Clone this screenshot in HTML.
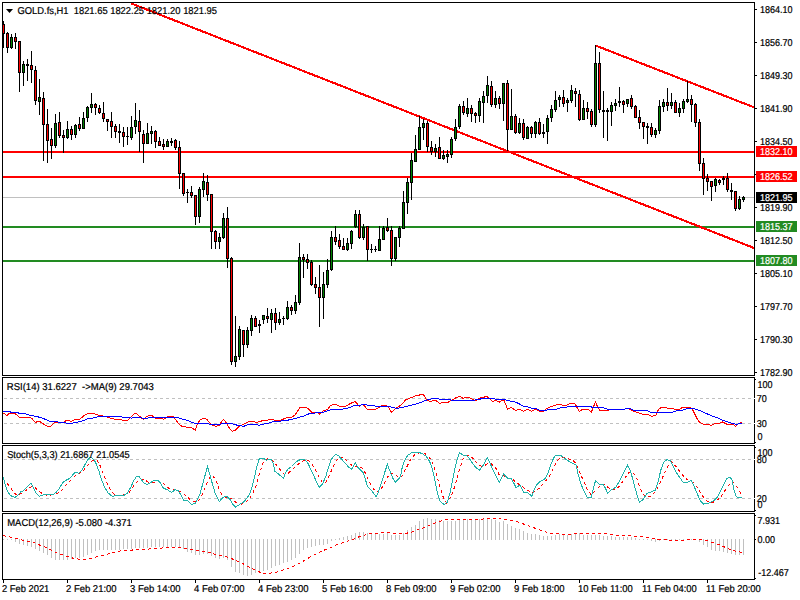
<!DOCTYPE html>
<html><head><meta charset="utf-8"><title>GOLD.fs H1</title>
<style>html,body{margin:0;padding:0;background:#fff;overflow:hidden}svg{display:block}text{font-family:"Liberation Sans",sans-serif;font-size:10px;text-rendering:geometricPrecision}</style></head><body>
<svg width="800" height="600" viewBox="0 0 800 600">
<rect width="800" height="600" fill="#fff"/>
<g shape-rendering="crispEdges">
<rect x="3" y="197" width="751" height="1" fill="#c0c0c0"/>
<rect x="3" y="151" width="751" height="2" fill="#f00"/>
<rect x="3" y="176" width="751" height="2" fill="#f00"/>
<rect x="3" y="226" width="751" height="2" fill="#228b22"/>
<rect x="3" y="260" width="751" height="2" fill="#228b22"/>
<clipPath id="cm"><rect x="3" y="3" width="751" height="372"/></clipPath>
<g clip-path="url(#cm)" stroke="#f00" stroke-width="2.1" fill="none">
<line x1="131.5" y1="3.5" x2="754" y2="248"/>
<line x1="595.5" y1="45.5" x2="754" y2="107.3"/>
</g>
<path d="M3 21h1v27h-1zM2 24h3v10h-3zM7 32h1v21h-1zM6 33h3v15h-3zM11 34h1v15h-1zM10 37h3v11h-3zM15 33h1v16h-1zM14 37h3v5h-3zM19 41h1v51h-1zM18 41h3v32h-3zM23 61h1v25h-1zM22 64h3v9h-3zM27 59h1v22h-1zM26 64h3v2h-3zM31 51h1v32h-1zM30 65h3v5h-3zM35 66h1v39h-1zM34 70h3v31h-3zM39 79h1v36h-1zM38 97h3v5h-3zM43 92h1v69h-1zM42 98h3v27h-3zM47 109h1v54h-1zM46 124h3v17h-3zM51 128h1v31h-1zM50 139h3v7h-3zM55 114h1v34h-1zM54 123h3v23h-3zM59 112h1v26h-1zM58 122h3v14h-3zM63 130h1v23h-1zM62 135h3v3h-3zM67 121h1v18h-1zM66 129h3v9h-3zM71 126h1v14h-1zM70 129h3v6h-3zM75 124h1v14h-1zM74 125h3v10h-3zM79 117h1v14h-1zM78 124h3v5h-3zM83 112h1v17h-1zM82 118h3v11h-3zM87 106h1v16h-1zM86 107h3v11h-3zM91 93h1v20h-1zM90 104h3v4h-3zM95 103h1v12h-1zM94 104h3v4h-3zM99 105h1v9h-1zM98 108h3v5h-3zM103 102h1v20h-1zM102 113h3v6h-3zM107 119h1v12h-1zM106 119h3v3h-3zM111 112h1v26h-1zM110 121h3v6h-3zM115 124h1v14h-1zM114 126h3v6h-3zM119 124h1v19h-1zM118 131h3v2h-3zM123 127h1v20h-1zM122 132h3v5h-3zM127 127h1v18h-1zM126 136h3v1h-3zM131 116h1v24h-1zM130 127h3v11h-3zM135 103h1v31h-1zM134 120h3v7h-3zM139 110h1v42h-1zM138 121h3v11h-3zM143 130h1v33h-1zM142 134h3v10h-3zM147 123h1v21h-1zM146 133h3v11h-3zM151 126h1v18h-1zM150 131h3v3h-3zM155 130h1v18h-1zM154 131h3v11h-3zM159 137h1v9h-1zM158 141h3v5h-3zM163 139h1v11h-1zM162 144h3v3h-3zM167 139h1v8h-1zM166 141h3v6h-3zM171 138h1v8h-1zM170 141h3v2h-3zM175 139h1v11h-1zM174 140h3v8h-3zM179 141h1v48h-1zM178 147h3v27h-3zM183 173h1v23h-1zM182 173h3v21h-3zM187 189h1v14h-1zM186 192h3v1h-3zM191 186h1v12h-1zM190 192h3v4h-3zM195 195h1v30h-1zM194 195h3v22h-3zM199 187h1v36h-1zM198 189h3v28h-3zM203 173h1v24h-1zM202 181h3v9h-3zM207 175h1v26h-1zM206 182h3v13h-3zM211 194h1v55h-1zM210 194h3v38h-3zM215 230h1v19h-1zM214 231h3v11h-3zM219 233h1v16h-1zM218 237h3v5h-3zM223 213h1v26h-1zM222 218h3v20h-3zM227 207h1v61h-1zM226 218h3v41h-3zM231 257h1v108h-1zM230 258h3v104h-3zM235 316h1v51h-1zM234 356h3v6h-3zM239 326h1v34h-1zM238 329h3v28h-3zM243 330h1v27h-1zM242 330h3v15h-3zM247 327h1v21h-1zM246 330h3v15h-3zM251 315h1v21h-1zM250 318h3v13h-3zM255 316h1v11h-1zM254 318h3v9h-3zM259 320h1v13h-1zM258 324h3v2h-3zM263 315h1v9h-1zM262 315h3v5h-3zM267 308h1v15h-1zM266 316h3v3h-3zM271 309h1v24h-1zM270 313h3v7h-3zM275 308h1v22h-1zM274 313h3v10h-3zM279 312h1v13h-1zM278 319h3v4h-3zM283 316h1v9h-1zM282 318h3v1h-3zM287 301h1v19h-1zM286 307h3v12h-3zM291 305h1v10h-1zM290 307h3v4h-3zM295 295h1v19h-1zM294 302h3v9h-3zM299 243h1v62h-1zM298 257h3v46h-3zM303 254h1v24h-1zM302 257h3v3h-3zM307 254h1v15h-1zM306 259h3v4h-3zM311 260h1v26h-1zM310 262h3v23h-3zM315 277h1v17h-1zM314 284h3v4h-3zM319 265h1v62h-1zM318 287h3v11h-3zM323 272h1v47h-1zM322 284h3v14h-3zM327 259h1v29h-1zM326 270h3v15h-3zM331 231h1v40h-1zM330 237h3v33h-3zM335 226h1v19h-1zM334 237h3v5h-3zM339 234h1v15h-1zM338 240h3v7h-3zM343 238h1v12h-1zM342 246h3v4h-3zM347 238h1v13h-1zM346 243h3v7h-3zM351 230h1v19h-1zM350 231h3v13h-3zM355 210h1v18h-1zM354 214h3v13h-3zM359 210h1v29h-1zM358 214h3v24h-3zM363 224h1v16h-1zM362 227h3v11h-3zM367 226h1v35h-1zM366 226h3v24h-3zM371 244h1v9h-1zM370 249h3v1h-3zM375 246h1v6h-1zM374 249h3v1h-3zM379 226h1v25h-1zM378 239h3v12h-3zM383 226h1v14h-1zM382 228h3v12h-3zM387 218h1v14h-1zM386 227h3v4h-3zM391 226h1v40h-1zM390 230h3v29h-3zM395 237h1v24h-1zM394 237h3v22h-3zM399 226h1v21h-1zM398 228h3v10h-3zM403 191h1v38h-1zM402 202h3v27h-3zM407 178h1v36h-1zM406 182h3v21h-3zM411 153h1v47h-1zM410 160h3v23h-3zM415 135h1v27h-1zM414 149h3v13h-3zM419 116h1v34h-1zM418 127h3v23h-3zM423 119h1v21h-1zM422 123h3v5h-3zM427 121h1v31h-1zM426 123h3v24h-3zM431 141h1v14h-1zM430 147h3v5h-3zM435 144h1v13h-1zM434 148h3v4h-3zM439 137h1v22h-1zM438 147h3v12h-3zM443 150h1v10h-1zM442 155h3v4h-3zM447 150h1v13h-1zM446 154h3v3h-3zM451 137h1v21h-1zM450 139h3v16h-3zM455 119h1v22h-1zM454 127h3v12h-3zM459 104h1v25h-1zM458 106h3v21h-3zM463 101h1v14h-1zM462 106h3v7h-3zM467 98h1v19h-1zM466 108h3v6h-3zM471 105h1v17h-1zM470 108h3v6h-3zM475 112h1v11h-1zM474 113h3v3h-3zM479 98h1v24h-1zM478 101h3v15h-3zM483 91h1v32h-1zM482 96h3v7h-3zM487 76h1v27h-1zM486 85h3v11h-3zM491 81h1v26h-1zM490 86h3v19h-3zM495 91h1v17h-1zM494 98h3v7h-3zM499 96h1v13h-1zM498 98h3v6h-3zM503 83h1v38h-1zM502 83h3v21h-3zM507 80h1v71h-1zM506 83h3v47h-3zM511 89h1v41h-1zM510 116h3v14h-3zM515 114h1v20h-1zM514 116h3v17h-3zM519 118h1v16h-1zM518 123h3v10h-3zM523 119h1v21h-1zM522 123h3v15h-3zM527 126h1v13h-1zM526 127h3v12h-3zM531 126h1v12h-1zM530 127h3v7h-3zM535 121h1v17h-1zM534 122h3v12h-3zM539 118h1v17h-1zM538 122h3v12h-3zM543 124h1v14h-1zM542 132h3v2h-3zM547 115h1v29h-1zM546 118h3v14h-3zM551 105h1v17h-1zM550 109h3v9h-3zM555 91h1v21h-1zM554 100h3v10h-3zM559 95h1v12h-1zM558 97h3v3h-3zM563 90h1v17h-1zM562 97h3v7h-3zM567 98h1v14h-1zM566 100h3v3h-3zM571 85h1v18h-1zM570 90h3v11h-3zM575 88h1v19h-1zM574 91h3v3h-3zM579 90h1v31h-1zM578 94h3v26h-3zM583 100h1v20h-1zM582 108h3v12h-3zM587 102h1v17h-1zM586 108h3v4h-3zM591 109h1v18h-1zM590 111h3v14h-3zM595 45h1v82h-1zM594 63h3v62h-3zM599 52h1v61h-1zM598 63h3v47h-3zM603 91h1v47h-1zM602 110h3v2h-3zM607 108h1v33h-1zM606 110h3v2h-3zM611 102h1v24h-1zM610 105h3v7h-3zM615 99h1v12h-1zM614 103h3v3h-3zM619 87h1v20h-1zM618 101h3v2h-3zM623 100h1v13h-1zM622 101h3v4h-3zM627 99h1v8h-1zM626 99h3v5h-3zM631 95h1v14h-1zM630 98h3v9h-3zM635 105h1v13h-1zM634 106h3v12h-3zM639 110h1v19h-1zM638 117h3v6h-3zM643 122h1v17h-1zM642 122h3v5h-3zM647 123h1v21h-1zM646 126h3v2h-3zM651 123h1v14h-1zM650 127h3v8h-3zM655 128h1v10h-1zM654 130h3v5h-3zM659 100h1v34h-1zM658 106h3v25h-3zM663 99h1v13h-1zM662 102h3v5h-3zM667 88h1v23h-1zM666 102h3v4h-3zM671 93h1v16h-1zM670 102h3v4h-3zM675 100h1v13h-1zM674 102h3v11h-3zM679 103h1v14h-1zM678 108h3v5h-3zM683 99h1v14h-1zM682 101h3v8h-3zM687 81h1v22h-1zM686 99h3v3h-3zM691 95h1v27h-1zM690 99h3v6h-3zM695 103h1v24h-1zM694 104h3v19h-3zM699 119h1v52h-1zM698 122h3v42h-3zM703 158h1v37h-1zM702 163h3v16h-3zM707 174h1v17h-1zM706 178h3v4h-3zM711 181h1v20h-1zM710 181h3v6h-3zM715 178h1v14h-1zM714 179h3v7h-3zM719 179h1v6h-1zM718 180h3v3h-3zM723 176h1v9h-1zM722 178h3v2h-3zM727 173h1v19h-1zM726 178h3v12h-3zM731 183h1v17h-1zM730 190h3v2h-3zM735 191h1v20h-1zM734 191h3v18h-3zM739 196h1v14h-1zM738 199h3v10h-3zM743 196h1v6h-1zM742 197h3v3h-3z" fill="#000"/>
<path d="M3 25h1v8h-1zM7 34h1v13h-1zM15 38h1v3h-1zM19 42h1v30h-1zM31 66h1v3h-1zM35 71h1v29h-1zM43 99h1v25h-1zM47 125h1v15h-1zM51 140h1v5h-1zM59 123h1v12h-1zM63 136h1v1h-1zM71 130h1v4h-1zM79 125h1v3h-1zM95 105h1v2h-1zM99 109h1v3h-1zM103 114h1v4h-1zM107 120h1v1h-1zM111 122h1v4h-1zM115 127h1v4h-1zM123 133h1v3h-1zM139 122h1v9h-1zM143 135h1v8h-1zM155 132h1v9h-1zM159 142h1v3h-1zM163 145h1v1h-1zM175 141h1v6h-1zM179 148h1v25h-1zM183 174h1v19h-1zM191 193h1v2h-1zM195 196h1v20h-1zM207 183h1v11h-1zM211 195h1v36h-1zM215 232h1v9h-1zM227 219h1v39h-1zM231 259h1v102h-1zM243 331h1v13h-1zM255 319h1v7h-1zM267 317h1v1h-1zM275 314h1v8h-1zM291 308h1v2h-1zM303 258h1v1h-1zM307 260h1v2h-1zM311 263h1v21h-1zM315 285h1v2h-1zM319 288h1v9h-1zM335 238h1v3h-1zM339 241h1v5h-1zM343 247h1v2h-1zM359 215h1v22h-1zM367 227h1v22h-1zM387 228h1v2h-1zM391 231h1v27h-1zM427 124h1v22h-1zM431 148h1v3h-1zM439 148h1v10h-1zM463 107h1v5h-1zM471 109h1v4h-1zM475 114h1v1h-1zM491 87h1v17h-1zM499 99h1v4h-1zM507 84h1v45h-1zM515 117h1v15h-1zM523 124h1v13h-1zM531 128h1v5h-1zM539 123h1v10h-1zM563 98h1v5h-1zM575 92h1v1h-1zM579 95h1v24h-1zM587 109h1v2h-1zM591 112h1v12h-1zM599 64h1v45h-1zM623 102h1v2h-1zM631 99h1v7h-1zM635 107h1v10h-1zM639 118h1v4h-1zM643 123h1v3h-1zM651 128h1v6h-1zM667 103h1v2h-1zM675 103h1v9h-1zM691 100h1v4h-1zM695 105h1v17h-1zM699 123h1v40h-1zM703 164h1v14h-1zM707 179h1v2h-1zM711 182h1v4h-1zM719 181h1v1h-1zM727 179h1v10h-1zM735 192h1v16h-1z" fill="#f00"/>
<path d="M11 38h1v9h-1zM23 65h1v7h-1zM39 98h1v3h-1zM55 124h1v21h-1zM67 130h1v7h-1zM75 126h1v8h-1zM83 119h1v9h-1zM87 108h1v9h-1zM91 105h1v2h-1zM131 128h1v9h-1zM135 121h1v5h-1zM147 134h1v9h-1zM151 132h1v1h-1zM167 142h1v4h-1zM199 190h1v26h-1zM203 182h1v7h-1zM219 238h1v3h-1zM223 219h1v18h-1zM235 357h1v4h-1zM239 330h1v26h-1zM247 331h1v13h-1zM251 319h1v11h-1zM263 316h1v3h-1zM271 314h1v5h-1zM279 320h1v2h-1zM287 308h1v10h-1zM295 303h1v7h-1zM299 258h1v44h-1zM323 285h1v12h-1zM327 271h1v13h-1zM331 238h1v31h-1zM347 244h1v5h-1zM351 232h1v11h-1zM355 215h1v11h-1zM363 228h1v9h-1zM379 240h1v10h-1zM383 229h1v10h-1zM395 238h1v20h-1zM399 229h1v8h-1zM403 203h1v25h-1zM407 183h1v19h-1zM411 161h1v21h-1zM415 150h1v11h-1zM419 128h1v21h-1zM423 124h1v3h-1zM435 149h1v2h-1zM443 156h1v2h-1zM447 155h1v1h-1zM451 140h1v14h-1zM455 128h1v10h-1zM459 107h1v19h-1zM467 109h1v4h-1zM479 102h1v13h-1zM483 97h1v5h-1zM487 86h1v9h-1zM495 99h1v5h-1zM503 84h1v19h-1zM511 117h1v12h-1zM519 124h1v8h-1zM527 128h1v10h-1zM535 123h1v10h-1zM547 119h1v12h-1zM551 110h1v7h-1zM555 101h1v8h-1zM559 98h1v1h-1zM567 101h1v1h-1zM571 91h1v9h-1zM583 109h1v10h-1zM595 64h1v60h-1zM611 106h1v5h-1zM615 104h1v1h-1zM627 100h1v3h-1zM655 131h1v3h-1zM659 107h1v23h-1zM663 103h1v3h-1zM671 103h1v2h-1zM679 109h1v3h-1zM683 102h1v6h-1zM687 100h1v1h-1zM715 180h1v5h-1zM739 200h1v8h-1zM743 198h1v1h-1z" fill="#008000"/>
<rect x="2" y="2" width="753" height="1" fill="#000"/><rect x="2" y="375" width="753" height="1" fill="#000"/><rect x="2" y="2" width="1" height="374" fill="#000"/><rect x="754" y="2" width="1" height="374" fill="#000"/>
<rect x="2" y="377" width="753" height="1" fill="#000"/><rect x="2" y="443" width="753" height="1" fill="#000"/><rect x="2" y="377" width="1" height="67" fill="#000"/><rect x="754" y="377" width="1" height="67" fill="#000"/>
<rect x="2" y="445" width="753" height="1" fill="#000"/><rect x="2" y="511" width="753" height="1" fill="#000"/><rect x="2" y="445" width="1" height="67" fill="#000"/><rect x="754" y="445" width="1" height="67" fill="#000"/>
<rect x="2" y="513" width="753" height="1" fill="#000"/><rect x="2" y="579" width="753" height="1" fill="#000"/><rect x="2" y="513" width="1" height="67" fill="#000"/><rect x="754" y="513" width="1" height="67" fill="#000"/>
<rect x="755" y="9" width="2" height="1" fill="#000"/>
<rect x="755" y="42" width="2" height="1" fill="#000"/>
<rect x="755" y="75" width="2" height="1" fill="#000"/>
<rect x="755" y="108" width="2" height="1" fill="#000"/>
<rect x="755" y="141" width="2" height="1" fill="#000"/>
<rect x="755" y="174" width="2" height="1" fill="#000"/>
<rect x="755" y="207" width="2" height="1" fill="#000"/>
<rect x="755" y="240" width="2" height="1" fill="#000"/>
<rect x="755" y="273" width="2" height="1" fill="#000"/>
<rect x="755" y="306" width="2" height="1" fill="#000"/>
<rect x="755" y="339" width="2" height="1" fill="#000"/>
<rect x="755" y="372" width="2" height="1" fill="#000"/>
<rect x="755" y="379" width="1" height="1" fill="#000"/>
<rect x="755" y="442" width="1" height="1" fill="#000"/>
<rect x="755" y="447" width="1" height="1" fill="#000"/>
<rect x="755" y="510" width="1" height="1" fill="#000"/>
<rect x="755" y="515" width="1" height="1" fill="#000"/>
<rect x="755" y="539" width="1" height="1" fill="#000"/>
<rect x="755" y="578" width="1" height="1" fill="#000"/>
<path d="M4 398.5H754" stroke="#c0c0c0" stroke-width="1" stroke-dasharray="3 3" fill="none"/><rect x="754" y="398" width="1" height="1" fill="#fff"/>
<path d="M4 423.5H754" stroke="#c0c0c0" stroke-width="1" stroke-dasharray="3 3" fill="none"/><rect x="754" y="423" width="1" height="1" fill="#fff"/>
<path d="M4 459.5H754" stroke="#c0c0c0" stroke-width="1" stroke-dasharray="3 3" fill="none"/><rect x="754" y="459" width="1" height="1" fill="#fff"/>
<path d="M4 498.5H754" stroke="#c0c0c0" stroke-width="1" stroke-dasharray="3 3" fill="none"/><rect x="754" y="498" width="1" height="1" fill="#fff"/>
<path d="M3 539h1v1h-1zM7 539h1v1h-1zM11 539h1v1h-1zM15 539h1v3h-1zM19 539h1v5h-1zM23 539h1v6h-1zM27 539h1v7h-1zM31 539h1v8h-1zM35 539h1v10h-1zM39 539h1v12h-1zM43 539h1v14h-1zM47 539h1v16h-1zM51 539h1v19h-1zM55 539h1v21h-1zM59 539h1v21h-1zM63 539h1v21h-1zM67 539h1v21h-1zM71 539h1v20h-1zM75 539h1v19h-1zM79 539h1v19h-1zM83 539h1v18h-1zM87 539h1v16h-1zM91 539h1v14h-1zM95 539h1v12h-1zM99 539h1v11h-1zM103 539h1v11h-1zM107 539h1v11h-1zM111 539h1v11h-1zM115 539h1v11h-1zM119 539h1v11h-1zM123 539h1v10h-1zM127 539h1v10h-1zM131 539h1v10h-1zM135 539h1v9h-1zM139 539h1v9h-1zM143 539h1v9h-1zM147 539h1v9h-1zM151 539h1v8h-1zM155 539h1v8h-1zM159 539h1v8h-1zM163 539h1v8h-1zM167 539h1v8h-1zM171 539h1v8h-1zM175 539h1v8h-1zM179 539h1v8h-1zM183 539h1v10h-1zM187 539h1v13h-1zM191 539h1v14h-1zM195 539h1v16h-1zM199 539h1v16h-1zM203 539h1v15h-1zM207 539h1v15h-1zM211 539h1v17h-1zM215 539h1v19h-1zM219 539h1v20h-1zM223 539h1v19h-1zM227 539h1v21h-1zM231 539h1v28h-1zM235 539h1v33h-1zM239 539h1v34h-1zM243 539h1v36h-1zM247 539h1v37h-1zM251 539h1v36h-1zM255 539h1v34h-1zM259 539h1v32h-1zM263 539h1v32h-1zM267 539h1v31h-1zM271 539h1v29h-1zM275 539h1v27h-1zM279 539h1v26h-1zM283 539h1v24h-1zM287 539h1v23h-1zM291 539h1v21h-1zM295 539h1v19h-1zM299 539h1v15h-1zM303 539h1v11h-1zM307 539h1v9h-1zM311 539h1v8h-1zM315 539h1v7h-1zM319 539h1v6h-1zM323 539h1v6h-1zM327 539h1v5h-1zM331 539h1v2h-1zM335 539h1v1h-1zM339 538h1v2h-1zM343 537h1v3h-1zM347 536h1v4h-1zM351 535h1v5h-1zM355 533h1v7h-1zM359 532h1v8h-1zM363 532h1v8h-1zM367 533h1v7h-1zM371 533h1v7h-1zM375 534h1v6h-1zM379 534h1v6h-1zM383 534h1v6h-1zM387 533h1v7h-1zM391 535h1v5h-1zM395 535h1v5h-1zM399 535h1v5h-1zM403 533h1v7h-1zM407 530h1v10h-1zM411 527h1v13h-1zM415 525h1v15h-1zM419 521h1v19h-1zM423 519h1v21h-1zM427 518h1v22h-1zM431 519h1v21h-1zM435 519h1v21h-1zM439 520h1v20h-1zM443 521h1v19h-1zM447 521h1v19h-1zM451 521h1v19h-1zM455 521h1v19h-1zM459 519h1v21h-1zM463 519h1v21h-1zM467 519h1v21h-1zM471 519h1v21h-1zM475 520h1v20h-1zM479 519h1v21h-1zM483 519h1v21h-1zM487 519h1v21h-1zM491 519h1v21h-1zM495 520h1v20h-1zM499 522h1v18h-1zM503 521h1v19h-1zM507 524h1v16h-1zM511 526h1v14h-1zM515 528h1v12h-1zM519 529h1v11h-1zM523 531h1v9h-1zM527 533h1v7h-1zM531 534h1v6h-1zM535 534h1v6h-1zM539 535h1v5h-1zM543 536h1v4h-1zM547 536h1v4h-1zM551 536h1v4h-1zM555 535h1v5h-1zM559 534h1v6h-1zM563 535h1v5h-1zM567 535h1v5h-1zM571 534h1v6h-1zM575 533h1v7h-1zM579 533h1v7h-1zM583 535h1v5h-1zM587 535h1v5h-1zM591 535h1v5h-1zM595 535h1v5h-1zM599 535h1v5h-1zM603 536h1v4h-1zM607 536h1v4h-1zM611 536h1v4h-1zM615 537h1v3h-1zM619 537h1v3h-1zM623 537h1v3h-1zM627 537h1v3h-1zM631 537h1v3h-1zM635 538h1v2h-1zM639 539h1v1h-1zM643 539h1v1h-1zM647 539h1v1h-1zM651 539h1v2h-1zM655 539h1v3h-1zM659 539h1v2h-1zM663 539h1v1h-1zM667 539h1v1h-1zM671 539h1v1h-1zM675 539h1v1h-1zM679 539h1v1h-1zM683 539h1v1h-1zM687 539h1v1h-1zM691 539h1v1h-1zM695 539h1v1h-1zM699 539h1v3h-1zM703 539h1v6h-1zM707 539h1v8h-1zM711 539h1v11h-1zM715 539h1v12h-1zM719 539h1v12h-1zM723 539h1v13h-1zM727 539h1v14h-1zM731 539h1v15h-1zM735 539h1v16h-1zM739 539h1v16h-1zM743 539h1v16h-1z" fill="#c0c0c0"/>
<rect x="3" y="580" width="1" height="3" fill="#000"/>
<rect x="67" y="580" width="1" height="3" fill="#000"/>
<rect x="131" y="580" width="1" height="3" fill="#000"/>
<rect x="195" y="580" width="1" height="3" fill="#000"/>
<rect x="259" y="580" width="1" height="3" fill="#000"/>
<rect x="323" y="580" width="1" height="3" fill="#000"/>
<rect x="387" y="580" width="1" height="3" fill="#000"/>
<rect x="451" y="580" width="1" height="3" fill="#000"/>
<rect x="515" y="580" width="1" height="3" fill="#000"/>
<rect x="579" y="580" width="1" height="3" fill="#000"/>
<rect x="643" y="580" width="1" height="3" fill="#000"/>
<rect x="707" y="580" width="1" height="3" fill="#000"/>
<rect x="756" y="146" width="41" height="11" fill="#f00"/><rect x="756" y="171" width="41" height="11" fill="#f00"/><rect x="756" y="192" width="41" height="11" fill="#000"/><rect x="756" y="221" width="41" height="11" fill="#228b22"/><rect x="756" y="255" width="41" height="11" fill="#228b22"/>
<polyline points="3.0,413.0 5.0,414.2 7.0,415.4 9.2,413.4 12.6,413.0 16.0,414.2 19.8,418.0 22.6,417.0 29.3,417.0 31.8,418.4 35.5,422.6 37.7,421.3 40.2,421.8 43.9,424.3 47.7,426.3 51.0,426.3 54.4,422.6 58.6,422.6 63.7,422.3 66.2,420.4 68.7,420.4 71.2,421.4 74.5,419.8 79.6,419.3 83.8,415.9 87.1,413.9 91.3,413.0 93.8,413.4 96.3,414.6 100.5,415.4 105.5,416.7 110.6,418.1 114.7,419.3 119.8,419.3 123.1,420.4 127.3,420.4 130.7,417.6 134.0,414.2 135.7,413.1 139.0,415.9 143.2,419.3 146.6,416.8 149.9,415.1 152.4,415.9 155.8,418.1 161.6,418.1 163.3,419.3 166.7,417.3 170.0,416.2 173.4,416.8 175.9,420.1 179.2,424.3 182.6,426.8 191.0,427.3 195.1,430.2 197.7,423.5 200.2,419.8 203.5,418.1 206.9,419.3 209.4,422.6 211.9,425.1 216.1,426.3 219.4,425.1 221.9,420.9 223.6,419.3 226.1,422.6 228.6,426.8 232.0,431.3 235.3,430.2 238.7,426.8 242.0,425.1 245.4,423.5 249.6,421.4 252.9,421.4 255.4,422.3 259.6,421.8 263.0,420.4 268.0,420.1 271.4,419.3 276.4,420.5 280.6,420.5 283.9,418.8 287.3,417.3 291.5,417.1 294.8,415.4 297.3,411.8 299.8,407.6 305.7,407.2 308.2,408.7 311.6,412.3 317.4,412.3 319.9,414.3 323.3,410.9 327.5,409.7 330.8,405.1 335.8,404.5 340.0,406.4 345.0,406.4 350.1,403.7 355.1,401.4 357.6,404.2 359.3,406.4 361.8,404.5 364.3,405.4 366.8,408.9 370.2,409.6 375.2,409.6 379.4,407.2 382.7,405.4 386.1,405.4 388.6,407.6 391.6,412.3 394.5,409.2 397.8,407.2 402.0,404.3 405.4,400.1 410.4,397.9 415.4,395.9 419.6,395.0 422.9,394.2 424.6,396.4 427.1,400.4 430.5,401.7 433.8,400.4 436.3,400.9 439.7,403.4 443.9,402.2 448.1,402.2 451.4,400.4 455.6,397.9 459.8,396.4 463.1,398.4 466.5,397.2 469.0,397.5 472.4,399.2 474.9,400.9 478.2,399.2 481.6,397.2 484.1,397.2 486.6,396.2 489.1,398.4 492.5,401.4 495.8,400.4 499.2,402.2 501.7,400.4 504.2,400.4 506.2,405.9 507.5,409.3 510.9,407.3 515.9,410.4 520.1,409.3 523.4,411.4 527.6,409.3 531.3,411.3 534.3,409.8 536.0,409.5 539.4,411.4 543.5,411.4 546.9,408.4 551.1,406.4 555.3,405.4 558.6,404.2 562.0,405.1 565.3,405.9 568.7,404.2 572.0,403.0 575.4,404.2 577.5,408.4 579.5,411.4 582.9,409.2 587.9,409.2 591.3,412.3 593.8,405.9 595.5,402.2 597.6,406.7 599.6,410.4 608.0,410.4 610.5,409.2 624.8,409.2 627.3,408.1 629.8,409.2 633.1,411.2 638.2,412.6 643.2,414.3 648.3,414.8 651.7,416.4 655.9,415.1 658.4,409.8 661.0,407.6 665.1,407.2 667.6,408.4 671.8,408.4 676.0,409.7 679.4,409.2 682.7,407.2 688.6,407.2 691.9,408.4 695.3,415.1 698.6,421.5 702.8,424.0 708.7,424.3 711.2,425.5 714.5,423.5 718.7,423.5 722.1,421.8 727.1,424.3 733.0,424.3 735.5,426.3 738.0,423.8 742.2,422.1" fill="none" stroke="#f00" stroke-width="1" />
<polyline points="3.0,411.4 9.2,411.4 10.9,412.2 16.8,412.2 19.3,413.4 25.1,413.4 27.6,414.6 31.0,415.4 36.0,416.4 41.0,417.6 45.2,419.3 48.6,420.9 51.9,421.4 57.0,421.4 59.5,422.6 64.5,422.6 67.0,423.5 72.0,423.5 75.4,422.3 80.4,421.8 84.6,420.1 88.8,418.4 93.8,417.9 98.0,416.8 102.2,416.2 110.6,416.2 120.6,416.4 123.1,417.3 129.0,417.3 131.5,418.1 134.0,417.3 140.7,417.3 143.2,418.4 147.4,418.1 152.4,417.3 164.2,417.3 177.6,417.3 181.7,418.9 187.6,420.4 191.8,422.3 195.1,423.5 201.0,423.5 207.7,423.5 211.0,424.6 219.4,424.6 222.8,423.5 231.1,423.5 234.5,424.6 239.5,425.6 243.7,426.3 247.9,424.8 254.6,424.8 259.6,425.1 263.8,424.0 268.0,423.3 273.0,421.8 278.1,421.8 283.1,420.5 288.1,420.1 293.1,419.0 298.2,417.6 304.0,415.9 309.9,413.4 316.6,412.9 323.3,412.3 327.5,410.9 331.7,409.2 338.4,409.2 345.0,408.9 350.1,407.2 355.1,405.4 360.1,405.4 362.6,404.5 366.0,404.5 368.5,405.4 373.5,405.9 378.6,406.4 385.3,406.4 389.4,406.4 392.0,407.2 395.3,408.1 398.7,408.1 402.0,407.4 408.7,405.9 415.4,404.2 420.4,402.6 425.5,400.4 430.5,399.2 433.8,398.4 437.2,398.4 439.7,399.2 448.9,399.5 452.3,400.4 462.3,400.4 472.4,400.4 479.1,399.5 482.4,398.4 492.5,398.4 495.8,399.2 504.2,399.5 509.2,400.9 515.9,402.2 519.3,403.9 523.4,406.2 527.6,406.8 531.8,408.4 536.0,408.3 539.4,410.4 546.0,410.4 550.2,409.2 556.1,409.2 559.4,408.1 564.5,407.6 569.5,406.4 589.6,406.4 592.1,407.2 601.3,407.2 604.7,408.4 607.2,409.2 624.8,409.2 626.5,408.1 629.8,408.4 634.0,410.4 646.6,410.6 650.9,412.3 671.8,412.3 676.0,410.9 680.2,410.9 685.2,409.2 690.3,408.1 694.4,408.7 698.6,410.1 702.8,411.8 707.0,413.8 712.0,415.9 717.1,417.6 722.1,420.1 727.1,421.8 732.1,423.5 737.2,424.3 742.2,423.1" fill="none" stroke="#00f" stroke-width="1" />
<polyline points="3.4,479.0 8.4,484.9 13.4,491.6 16.8,495.4 21.8,493.3 26.8,489.9 31.0,486.9 34.3,486.9 37.7,489.9 41.9,493.3 46.9,495.4 51.9,494.9 57.8,493.3 62.0,489.9 66.2,484.9 70.4,480.7 74.5,476.5 78.7,474.0 82.1,471.8 86.3,467.3 90.5,462.3 93.8,459.8 97.2,460.6 100.5,466.4 103.9,474.8 107.2,483.2 110.6,489.9 113.9,494.1 118.9,495.4 124.8,494.9 129.0,492.4 132.3,487.9 134.0,485.5 137.4,481.5 140.7,479.0 144.9,479.9 149.1,482.7 153.3,482.4 158.3,481.2 162.5,482.4 166.7,486.9 170.9,489.6 175.9,489.9 181.7,492.1 186.8,496.6 191.8,500.8 196.0,502.0 200.2,499.1 203.5,491.6 206.9,483.2 210.2,476.5 212.7,475.7 216.1,480.7 219.4,489.9 222.8,496.6 226.1,497.1 231.2,498.3 236.2,502.5 241.2,504.1 245.4,502.5 249.6,498.3 252.9,493.3 256.3,484.9 259.6,473.2 263.0,463.1 266.3,459.2 268.0,458.7 271.4,459.8 274.7,463.1 278.9,468.1 282.2,472.3 284.8,474.8 288.1,473.2 293.1,469.0 297.3,464.8 301.5,461.8 305.7,459.8 309.0,461.1 312.4,464.8 315.7,470.6 319.1,477.3 322.4,482.4 325.8,482.4 329.1,475.7 332.5,468.1 335.8,461.4 339.2,457.2 342.5,457.2 346.7,460.6 350.9,464.8 355.1,466.5 359.3,466.5 363.5,469.0 366.8,476.5 370.2,483.2 373.5,489.1 376.9,492.1 380.2,490.7 383.6,484.9 386.9,478.2 390.3,473.2 393.6,473.2 397.0,476.0 400.3,477.3 402.0,476.0 406.2,468.1 410.4,459.8 414.6,454.7 419.6,452.7 424.6,453.4 428.8,456.4 433.0,463.9 436.3,474.0 439.7,485.7 443.0,496.6 446.4,503.0 449.7,498.3 453.1,491.6 456.4,480.7 459.8,468.1 463.1,458.9 466.5,455.1 470.7,456.1 474.9,460.6 479.1,465.6 483.2,466.5 487.4,463.9 491.6,463.9 495.8,468.1 499.2,474.8 503.3,474.8 506.7,478.2 511.7,478.2 515.9,482.4 520.1,484.9 524.3,488.2 528.5,490.7 531.8,493.3 536.0,490.7 540.2,487.4 544.4,482.4 548.6,477.3 552.8,469.8 556.9,461.4 561.1,457.2 566.2,457.2 570.4,459.8 574.5,461.4 577.9,468.1 581.2,475.7 584.6,483.2 587.9,490.7 591.3,494.9 594.6,491.6 598.8,487.4 603.0,484.0 606.4,486.2 610.5,489.1 615.6,489.9 619.8,485.7 623.9,479.9 628.1,473.2 631.5,471.5 635.7,475.7 639.0,484.9 642.4,493.3 646.0,497.4 650.5,496.2 655.5,491.4 659.5,484.5 663.4,475.6 667.6,466.8 671.8,461.8 676.0,466.5 680.2,472.3 684.4,477.3 688.6,480.7 692.8,482.4 697.0,486.9 700.3,492.4 703.7,497.4 707.0,501.3 711.2,503.0 716.2,500.8 721.2,496.6 725.4,489.9 729.6,484.0 733.0,481.9 736.3,486.2 739.7,491.6 742.5,495.8" fill="none" stroke="#f00" stroke-width="1" stroke-dasharray="3 3"/>
<polyline points="3.4,477.3 5.0,484.0 7.5,491.6 10.9,495.8 15.1,497.4 18.4,494.9 20.9,491.6 23.5,490.7 27.6,486.2 31.0,483.2 33.5,488.2 36.0,493.3 39.4,496.3 43.6,494.9 49.4,494.6 52.8,494.6 56.1,492.4 59.5,488.2 62.8,482.4 66.2,480.2 69.5,478.5 72.9,474.8 75.4,472.3 78.7,473.2 82.1,469.8 85.4,463.9 87.9,459.8 90.5,457.2 93.0,458.9 95.5,462.3 98.8,470.6 101.3,479.0 104.7,487.4 108.0,492.9 112.2,496.3 117.3,495.4 124.0,495.4 127.3,493.3 130.7,487.4 134.0,480.2 136.5,476.5 139.0,476.2 141.5,479.9 144.1,483.2 147.4,484.4 150.8,482.4 154.1,480.2 157.5,480.2 160.0,482.4 163.3,487.9 167.5,489.9 171.7,492.4 175.0,489.6 178.4,490.7 180.9,494.9 183.4,500.0 187.6,500.5 191.8,504.5 195.1,503.3 197.7,499.1 200.2,493.3 202.7,484.0 205.2,474.8 207.4,466.5 209.7,474.0 212.7,484.9 215.2,493.3 219.4,501.6 222.8,497.4 227.0,496.3 230.3,500.0 232.8,504.1 235.3,507.2 238.7,505.0 242.9,502.5 246.2,499.1 249.6,494.1 252.1,486.5 254.6,476.5 257.1,465.6 259.3,458.6 263.8,458.6 266.3,460.3 268.0,459.8 271.4,459.8 273.0,463.1 275.0,471.5 278.1,473.7 281.4,476.5 283.4,478.5 285.6,472.8 288.1,469.0 291.5,466.5 294.8,463.1 298.2,460.6 301.5,459.2 304.9,459.8 307.4,462.3 310.7,469.0 314.1,476.5 317.4,483.7 319.6,487.4 322.4,484.0 325.8,476.5 328.3,468.1 330.8,460.6 333.3,456.4 335.8,454.4 338.4,455.6 341.7,459.2 345.1,463.1 348.4,466.9 351.8,469.3 355.1,462.8 358.5,468.1 361.0,470.6 363.5,472.8 365.2,479.0 367.7,486.9 371.0,489.9 373.5,493.3 376.0,496.6 378.6,491.6 381.9,481.5 385.3,470.6 387.4,464.4 389.4,469.8 392.8,478.2 395.3,482.4 398.7,479.0 400.8,475.7 402.0,468.5 404.5,460.6 407.9,455.1 412.1,452.5 417.1,452.2 422.1,453.4 426.3,456.4 429.6,461.4 432.2,468.1 434.7,479.0 437.2,491.6 439.7,500.8 443.9,504.5 447.2,502.5 449.7,494.1 452.3,481.5 454.8,469.0 457.3,458.9 459.5,452.5 463.1,455.1 466.5,455.6 469.0,458.1 472.4,463.1 475.7,467.3 479.4,470.1 482.4,466.5 485.8,460.6 487.4,457.6 489.9,463.1 493.3,470.6 496.6,477.3 499.5,482.4 501.7,477.3 503.7,473.7 505.9,476.5 508.4,479.0 510.9,478.2 513.4,482.4 515.9,487.4 520.1,485.2 523.4,492.1 527.6,492.4 531.8,496.3 534.3,489.1 536.0,485.7 540.2,481.5 544.4,479.5 547.7,474.0 550.2,466.5 552.8,459.8 555.3,455.2 560.3,455.2 563.6,457.6 567.8,460.6 572.0,463.1 576.2,465.3 577.9,473.2 580.4,482.4 583.7,490.7 587.1,497.4 591.3,497.1 593.5,488.2 595.5,480.7 598.8,484.0 603.0,484.0 605.0,487.4 607.7,493.3 611.4,489.9 615.6,487.4 619.8,480.7 623.9,472.3 627.6,465.3 630.6,471.5 633.2,480.7 636.5,493.3 639.5,502.1 643.3,499.5 646.7,493.7 650.5,492.1 655.5,490.0 658.3,480.7 660.8,470.2 663.4,462.5 666.8,459.8 670.2,460.6 673.5,467.3 676.9,473.2 680.2,478.2 683.2,482.4 686.9,482.4 691.1,480.7 693.6,484.9 697.0,493.3 700.3,500.8 703.7,504.1 708.7,503.0 713.7,500.8 717.9,496.6 721.2,489.9 724.6,482.4 727.1,478.2 729.6,477.3 731.8,479.0 733.8,489.1 736.3,496.6 739.7,497.9 742.5,496.9" fill="none" stroke="#20b2aa" stroke-width="1" />
<polyline points="3.4,535.6 10.0,537.0 16.8,538.3 22.6,540.3 28.5,541.5 34.3,542.8 40.2,545.3 46.1,547.5 51.9,550.7 57.8,553.4 64.5,555.4 70.4,557.6 76.2,558.7 82.1,559.6 87.9,558.7 93.8,557.6 100.5,555.9 106.4,554.6 112.2,552.9 118.1,551.2 124.8,550.4 130.7,550.4 134.8,549.5 140.7,549.5 148.2,549.2 154.1,548.2 160.8,548.2 166.7,547.3 172.5,547.3 178.4,547.3 184.3,548.4 190.1,549.2 196.0,550.4 202.7,551.2 208.5,552.4 214.4,554.2 220.3,555.4 226.1,556.6 232.8,559.1 238.7,561.6 244.6,564.6 250.4,568.0 256.3,570.5 262.1,573.3 268.0,573.3 274.7,572.6 280.6,571.0 286.4,568.8 292.3,566.8 298.2,563.8 304.0,560.7 309.9,557.1 316.6,553.7 322.4,550.7 328.3,548.7 334.2,545.8 340.0,543.7 346.7,541.5 352.6,539.5 358.5,537.0 364.3,535.3 370.2,533.3 376.0,533.3 382.7,532.4 388.6,532.4 394.5,533.3 400.3,533.3 406.2,533.3 412.1,531.9 417.9,529.8 423.8,527.8 430.5,524.9 436.3,522.4 442.2,520.5 448.1,519.4 453.9,519.4 460.6,519.4 466.5,519.4 472.4,519.4 478.2,519.4 484.1,518.9 490.8,518.2 496.6,518.2 502.5,519.4 508.4,520.2 514.2,521.0 520.1,522.7 526.8,525.2 532.7,527.2 537.7,529.4 544.4,531.4 550.2,533.3 556.1,533.3 562.0,534.5 568.7,534.5 574.5,533.3 580.4,533.3 586.3,533.3 592.1,533.3 598.8,533.3 604.7,533.3 610.5,534.5 616.4,535.3 622.3,535.3 628.1,535.3 634.8,536.5 640.7,536.5 646.6,537.3 652.4,538.3 658.3,539.5 664.1,539.5 670.0,540.3 676.0,540.3 681.9,540.3 688.6,539.5 694.4,539.5 700.3,539.5 706.2,540.3 712.0,542.3 718.7,544.5 724.6,547.0 730.5,549.9 736.3,551.2 742.2,552.4" fill="none" stroke="#f00" stroke-width="1" stroke-dasharray="3 3"/>
</g>
<path d="M6 9h7l-3.5 4z" fill="#000"/>
<text transform="translate(17.5,14) scale(0.9000,1)" stroke="#000" stroke-width="0.22" textLength="221.67" lengthAdjust="spacingAndGlyphs" xml:space="preserve">GOLD.fs,H1  1821.65 1822.25 1821.20 1821.95</text>
<text transform="translate(6.8,390) scale(0.9000,1)" stroke="#000" stroke-width="0.22" textLength="163.33" lengthAdjust="spacingAndGlyphs" xml:space="preserve">RSI(14) 31.6227  -&gt;MA(9) 29.7043</text>
<text transform="translate(7.2,458) scale(0.9000,1)" stroke="#000" stroke-width="0.22" textLength="136.11" lengthAdjust="spacingAndGlyphs" xml:space="preserve">Stoch(5,3,3) 21.6867 21.0545</text>
<text transform="translate(7.2,526) scale(0.9000,1)" stroke="#000" stroke-width="0.22" textLength="138.33" lengthAdjust="spacingAndGlyphs" xml:space="preserve">MACD(12,26,9) -5.080 -4.371</text>
<text transform="translate(760,13) scale(0.9000,1)" stroke="#000" stroke-width="0.22" xml:space="preserve">1864.10</text>
<text transform="translate(760,46) scale(0.9000,1)" stroke="#000" stroke-width="0.22" xml:space="preserve">1856.70</text>
<text transform="translate(760,79) scale(0.9000,1)" stroke="#000" stroke-width="0.22" xml:space="preserve">1849.30</text>
<text transform="translate(760,112) scale(0.9000,1)" stroke="#000" stroke-width="0.22" xml:space="preserve">1841.90</text>
<text transform="translate(760,145) scale(0.9000,1)" stroke="#000" stroke-width="0.22" xml:space="preserve">1834.50</text>
<text transform="translate(760,211) scale(0.9000,1)" stroke="#000" stroke-width="0.22" xml:space="preserve">1819.90</text>
<text transform="translate(760,244) scale(0.9000,1)" stroke="#000" stroke-width="0.22" xml:space="preserve">1812.50</text>
<text transform="translate(760,277) scale(0.9000,1)" stroke="#000" stroke-width="0.22" xml:space="preserve">1805.10</text>
<text transform="translate(760,310) scale(0.9000,1)" stroke="#000" stroke-width="0.22" xml:space="preserve">1797.70</text>
<text transform="translate(760,343) scale(0.9000,1)" stroke="#000" stroke-width="0.22" xml:space="preserve">1790.30</text>
<text transform="translate(760,376) scale(0.9000,1)" stroke="#000" stroke-width="0.22" xml:space="preserve">1782.90</text>
<text transform="translate(760,155) scale(0.9000,1)" stroke="#fff" stroke-width="0.22" fill="#fff" xml:space="preserve">1832.10</text>
<text transform="translate(760,180) scale(0.9000,1)" stroke="#fff" stroke-width="0.22" fill="#fff" xml:space="preserve">1826.52</text>
<text transform="translate(760,201) scale(0.9000,1)" stroke="#fff" stroke-width="0.22" fill="#fff" xml:space="preserve">1821.95</text>
<text transform="translate(760,230) scale(0.9000,1)" stroke="#fff" stroke-width="0.22" fill="#fff" xml:space="preserve">1815.37</text>
<text transform="translate(760,264) scale(0.9000,1)" stroke="#fff" stroke-width="0.22" fill="#fff" xml:space="preserve">1807.80</text>
<text transform="translate(757.5,388) scale(0.9000,1)" stroke="#000" stroke-width="0.22" xml:space="preserve">100</text>
<text transform="translate(756.8,402) scale(0.9000,1)" stroke="#000" stroke-width="0.22" xml:space="preserve">70</text>
<text transform="translate(756.8,427) scale(0.9000,1)" stroke="#000" stroke-width="0.22" xml:space="preserve">30</text>
<text transform="translate(757.5,440) scale(0.9000,1)" stroke="#000" stroke-width="0.22" xml:space="preserve">0</text>
<text transform="translate(757.5,456) scale(0.9000,1)" stroke="#000" stroke-width="0.22" xml:space="preserve">100</text>
<text transform="translate(756.8,463) scale(0.9000,1)" stroke="#000" stroke-width="0.22" xml:space="preserve">80</text>
<text transform="translate(756.8,502) scale(0.9000,1)" stroke="#000" stroke-width="0.22" xml:space="preserve">20</text>
<text transform="translate(757.5,508) scale(0.9000,1)" stroke="#000" stroke-width="0.22" xml:space="preserve">0</text>
<text transform="translate(757.5,524) scale(0.9000,1)" stroke="#000" stroke-width="0.22" xml:space="preserve">7.931</text>
<text transform="translate(757.5,543) scale(0.9000,1)" stroke="#000" stroke-width="0.22" xml:space="preserve">0.00</text>
<text transform="translate(758.3,575.5) scale(0.9000,1)" stroke="#000" stroke-width="0.22" xml:space="preserve">-12.467</text>
<text transform="translate(2,592) scale(0.9000,1)" stroke="#000" stroke-width="0.22" textLength="52.56" lengthAdjust="spacingAndGlyphs" xml:space="preserve">2 Feb 2021</text>
<text transform="translate(66,592) scale(0.9000,1)" stroke="#000" stroke-width="0.22" textLength="56.22" lengthAdjust="spacingAndGlyphs" xml:space="preserve">2 Feb 21:00</text>
<text transform="translate(130,592) scale(0.9000,1)" stroke="#000" stroke-width="0.22" textLength="56.22" lengthAdjust="spacingAndGlyphs" xml:space="preserve">3 Feb 14:00</text>
<text transform="translate(194,592) scale(0.9000,1)" stroke="#000" stroke-width="0.22" textLength="56.22" lengthAdjust="spacingAndGlyphs" xml:space="preserve">4 Feb 07:00</text>
<text transform="translate(258,592) scale(0.9000,1)" stroke="#000" stroke-width="0.22" textLength="56.22" lengthAdjust="spacingAndGlyphs" xml:space="preserve">4 Feb 23:00</text>
<text transform="translate(322,592) scale(0.9000,1)" stroke="#000" stroke-width="0.22" textLength="56.22" lengthAdjust="spacingAndGlyphs" xml:space="preserve">5 Feb 16:00</text>
<text transform="translate(386,592) scale(0.9000,1)" stroke="#000" stroke-width="0.22" textLength="56.22" lengthAdjust="spacingAndGlyphs" xml:space="preserve">8 Feb 09:00</text>
<text transform="translate(450,592) scale(0.9000,1)" stroke="#000" stroke-width="0.22" textLength="56.22" lengthAdjust="spacingAndGlyphs" xml:space="preserve">9 Feb 02:00</text>
<text transform="translate(514,592) scale(0.9000,1)" stroke="#000" stroke-width="0.22" textLength="56.22" lengthAdjust="spacingAndGlyphs" xml:space="preserve">9 Feb 18:00</text>
<text transform="translate(578,592) scale(0.9000,1)" stroke="#000" stroke-width="0.22" textLength="60.89" lengthAdjust="spacingAndGlyphs" xml:space="preserve">10 Feb 11:00</text>
<text transform="translate(642,592) scale(0.9000,1)" stroke="#000" stroke-width="0.22" textLength="60.89" lengthAdjust="spacingAndGlyphs" xml:space="preserve">11 Feb 04:00</text>
<text transform="translate(706,592) scale(0.9000,1)" stroke="#000" stroke-width="0.22" textLength="60.89" lengthAdjust="spacingAndGlyphs" xml:space="preserve">11 Feb 20:00</text>
</svg></body></html>
